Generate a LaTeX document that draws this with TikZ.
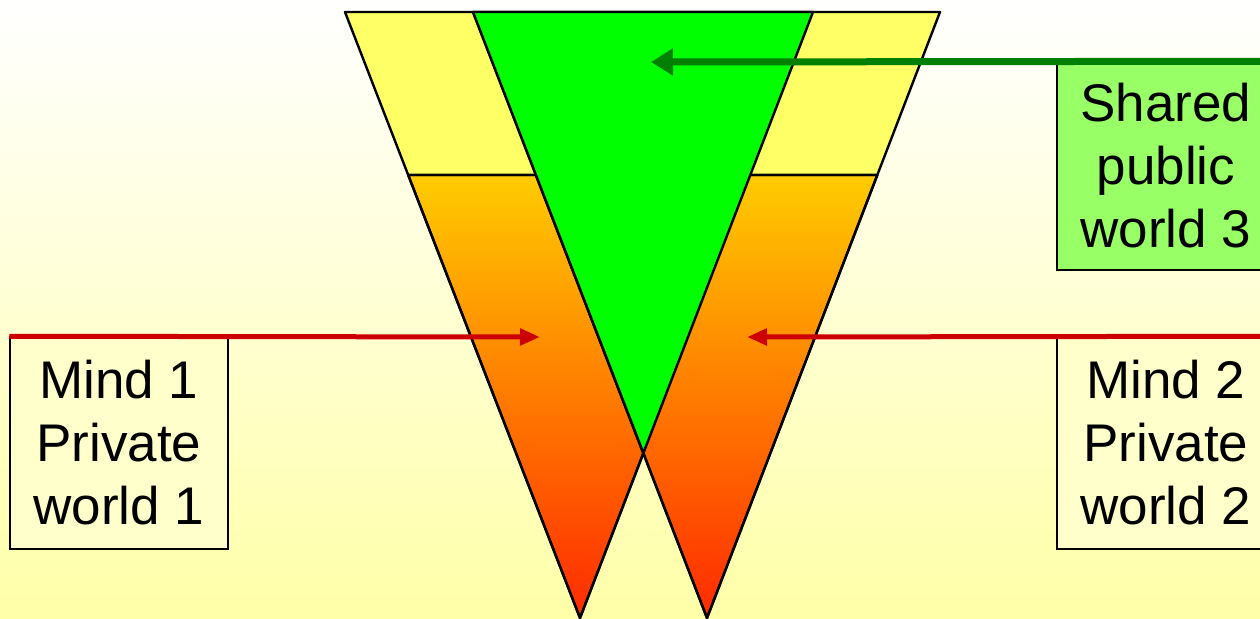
\documentclass[tikz,border=0pt]{standalone}
\usepackage{fontspec}
\setmainfont{Liberation Sans}
\usepackage{tikz}
\usetikzlibrary{positioning,arrows.meta,calc}
\definecolor{bgyellow}{HTML}{FFFFA8}
\definecolor{paleyellow}{HTML}{FFFF66}
\definecolor{boxyellow}{HTML}{FFFFCC}
\definecolor{topamber}{HTML}{FFCC00}
\definecolor{tipred}{HTML}{FF2A00}
\definecolor{sharedgreen}{HTML}{00FF00}
\definecolor{boxgreen}{HTML}{99FF66}
\definecolor{arrowgreen}{HTML}{007F00}
\definecolor{arrowred}{HTML}{CC0000}
\tikzset{
    every node/.style={font=\fontsize{26.5}{31.5}\selectfont},
    mindbox/.style={draw=black,line width=0.75pt,fill=boxyellow,minimum width=109pt,minimum height=106pt,align=center,inner sep=0pt},
    sharedbox/.style={mindbox,fill=boxgreen,minimum height=104pt},
    band/.style={draw=black,line width=1.2pt,line join=round},
    redarrow/.style={draw=arrowred,line width=2.5pt,-{Triangle[length=10pt,width=8pt]}},
    greenarrow/.style={draw=arrowgreen,line width=3.5pt,-{Triangle[length=11pt,width=13pt]}}
}
\begin{document}
\begin{tikzpicture}[x=0.5pt,y=-0.5pt]
    \useasboundingbox (0,0) rectangle (1260,618);
    \shade[top color=white,bottom color=bgyellow] (0,0) rectangle (1260,618);
    % left world
    \fill[band,fill=paleyellow] (345,12) -- (813,12) -- (750.3,175) -- (408.2,175) -- cycle;
    \shade[band,top color=topamber,bottom color=tipred] (408.2,175) -- (750.3,175) -- (580,618) -- cycle;
    \draw[band] (408.2,175) -- (750.3,175) -- (580,618) -- cycle;
    % right world
    \fill[band,fill=paleyellow] (473,12) -- (940,12) -- (877.3,175) -- (535.9,175) -- cycle;
    \shade[band,top color=topamber,bottom color=tipred] (535.9,175) -- (877.3,175) -- (707,618) -- cycle;
    \draw[band] (535.9,175) -- (877.3,175) -- (707,618) -- cycle;
    % shared world
    \filldraw[band,fill=sharedgreen] (473,12) -- (813,12) -- (643.4,453) -- cycle;
    \node[mindbox] (mind1) at (119,443) {Mind 1\\Private\\world 1};
    \node[mindbox] (mind2) at (1166,443) {Mind 2\\Private\\world 2};
    \node[sharedbox] (shared) at (1166,166) {Shared\\public\\world 3};
    \coordinate (p1) at (540,337);
    \coordinate (p2) at (747,337);
    \coordinate (p3) at (651,62);
    \draw[redarrow] (mind1.north west) -- (p1);
    \draw[redarrow] (mind2.north east) -- (p2);
    \draw[greenarrow] (shared.north east) -- (p3);
\end{tikzpicture}
\end{document}
